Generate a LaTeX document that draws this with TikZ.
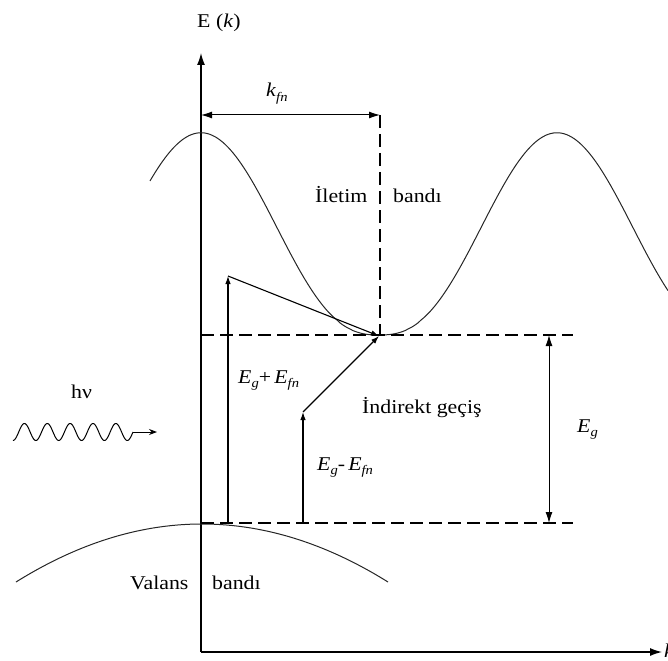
\documentclass[tikz,border=0pt]{standalone}
\usepackage{fontspec}
\setmainfont{Liberation Serif}[FakeStretch=1.12]
\usetikzlibrary{arrows.meta}
\newcommand\sbs[1]{\raisebox{-4.5pt}{\fontsize{13}{13}\selectfont\itshape #1}}
\begin{document}
\begin{tikzpicture}[x=1pt,y=-1pt,
  lbl/.style={inner sep=0pt, anchor=base west, font=\fontsize{19.5}{22}\selectfont},
  axis/.style={line width=1.3pt,-{Latex[length=12pt,width=8pt]}},
  band/.style={line width=1pt, black!85},
  lvl/.style={line width=2.8pt, dash pattern=on 13pt off 6pt},
  tr/.style={line width=1.1pt,-{Latex[length=8pt,width=5.5pt]}},
  dbl/.style={line width=1pt,{Latex[length=11pt,width=7pt]}-{Latex[length=11pt,width=7pt]}},
]
\useasboundingbox (0,0) rectangle (668,660);
% axes
\coordinate (O) at (201,652);
\coordinate (Ytop) at (201,53);
\coordinate (Xend) at (662,652);
\draw[axis] (O) -- (Ytop);
\draw[axis] (O) -- (Xend);
% conduction band
\draw[band] plot[domain=150:668,samples=200,smooth] (\x,{335-202*exp(1.3*ln((1+cos((\x-201)/356*360))/2+0.001))});
% valence band
\draw[band] plot[domain=16:388,samples=80,smooth] (\x,{524+58*((\x-202)/186)^2});
% levels
\coordinate (C1) at (201,335); \coordinate (C2) at (573,335);
\coordinate (V1) at (201,523); \coordinate (V2) at (573,523);
\coordinate (K1) at (380,115); \coordinate (K0) at (201,115);
\coordinate (M) at (380,335);
\draw[lvl] (C1) -- (C2);
\draw[lvl] (V1) -- (V2);
\draw[lvl] (K1) -- (M);
\draw[dbl] (K0) -- (K1);
% Eg arrow
\coordinate (G1) at (549,335); \coordinate (G2) at (549,523);
\draw[dbl] (G1) -- (G2);
% transitions
\coordinate (A1) at (228,523); \coordinate (A2) at (228,276);
\coordinate (B1) at (303,523); \coordinate (B2) at (303,412);
\coordinate (Mt) at (379,336);
\draw[tr] (A1) -- (A2);
\draw[tr] (A2) -- (Mt);
\draw[tr] (B1) -- (B2);
\draw[tr] (B2) -- (Mt);
% photon
\draw[line width=1pt] plot[domain=13:133,samples=200,smooth] (\x,{432+8.5*cos((\x-13)/22.86*360)});
\coordinate (W1) at (133,432); \coordinate (W2) at (157,432);
\draw[line width=1pt,-{Stealth[length=8pt,width=6pt]}] (W1) -- (W2);
% labels
\node[lbl] (ek) at (197,28) {E (\textit{k})};
\node[lbl] (kfn) at (266,97) {\textit{k}\sbs{fn}};
\node[lbl] (il) at (315,203) {İletim};
\node[lbl] (bd1) at (393,203) {bandı};
\node[lbl] (va) at (130,589) {Valans};
\node[lbl] (bd2) at (212,589) {bandı};
\node[lbl] (ind) at (362,413) {İndirekt geçiş};
\node[lbl] (egp) at (238,383) {\textit{E}\sbs{g}+\,\textit{E}\sbs{fn}};
\node[lbl] (egm) at (317,470) {\textit{E}\sbs{g}-\,\textit{E}\sbs{fn}};
\node[lbl] (eg) at (577,432) {\textit{E}\sbs{g}};
\node[lbl] (hv) at (71,398) {hν};
\node[lbl] (kx) at (664,657) {\textit{k}};
\end{tikzpicture}
\end{document}
